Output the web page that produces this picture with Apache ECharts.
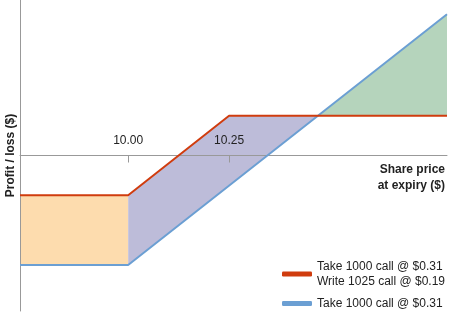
<!DOCTYPE html>
<html><head><meta charset="utf-8">
<script src="https://cdn.jsdelivr.net/npm/echarts@6/dist/echarts.min.js"></script>
<style>html,body{margin:0;padding:0;background:#fff}#c{width:449px;height:313px}</style>
</head><body><div id="c"></div>
<script>
// Share price at expiry ($) range and tick labels
const xMin = 9.732, xMax = 10.79;
const xTicks = [10.00, 10.25];
const yMin = -0.49, yMax = 0.49;
// Spread: take 1000 call @ $0.31, write 1025 call @ $0.19  [share price, profit/loss]
const spreadLine = [[9.732, -0.125], [10.00, -0.125], [10.25, 0.125], [10.79, 0.125]];
// Single call: take 1000 call @ $0.31
const callLine = [[9.732, -0.345], [10.00, -0.345], [10.79, 0.445]];
// where the two payoff lines cross
const crossPoint = [10.47, 0.125];

const spreadName = 'Take 1000 call @ $0.31\nWrite 1025 call @ $0.19';
const callName = 'Take 1000 call @ $0.31';

const orangeRegion = [spreadLine[0], spreadLine[1], callLine[1], callLine[0]];
const purpleRegion = [spreadLine[1], spreadLine[2], crossPoint, callLine[1]];
const greenRegion = [crossPoint, callLine[2], spreadLine[3]];

function polySeries(pts, color) {
  return {
    type: 'custom', silent: true, z: 1,
    data: [0],
    renderItem: function (params, api) {
      return {
        type: 'polygon',
        shape: { points: pts.map(p => api.coord(p)) },
        style: { fill: color }
      };
    }
  };
}

const gridTop = 0, gridBottom = 2, H = 313;
const plotH = H - gridTop - gridBottom;
// x axis sits at profit/loss = 0
const zeroOffset = -plotH * (0 - yMin) / (yMax - yMin);

const chart = echarts.init(document.getElementById('c'), null, {renderer: 'canvas'});
const font = 'Arial, "Liberation Sans", sans-serif';
chart.setOption({
  animation: false,
  grid: { left: 20, right: 2, top: gridTop, bottom: gridBottom, containLabel: false, outerBoundsMode: 'none' },
  xAxis: {
    type: 'value', min: xMin, max: xMax, position: 'bottom', offset: zeroOffset, z: 2,
    splitLine: { show: false },
    axisLine: { onZero: false, lineStyle: { color: '#999', width: 1 } },
    axisTick: { show: true, customValues: xTicks, length: 7, lineStyle: { color: '#999' } },
    axisLabel: { show: true, inside: true, customValues: xTicks, margin: 9, hideOverlap: false,
      formatter: v => v.toFixed(2), color: '#222', fontSize: 12, fontFamily: font },
    name: 'Share price\nat expiry ($)', nameLocation: 'end', nameGap: -2,
    nameTextStyle: { align: 'right', verticalAlign: 'top', fontWeight: 'bold', fontSize: 12,
      color: '#222', lineHeight: 16, fontFamily: font, padding: [6, 0, 0, 0] }
  },
  yAxis: {
    type: 'value', min: yMin, max: yMax, z: 2,
    splitLine: { show: false },
    axisLine: { show: true, onZero: false, lineStyle: { color: '#999', width: 1 } },
    axisTick: { show: false }, axisLabel: { show: false },
    name: 'Profit / loss ($)', nameLocation: 'middle', nameGap: 3,
    nameTextStyle: { fontWeight: 'bold', fontSize: 12, color: '#222', fontFamily: font }
  },
  legend: [{
    orient: 'vertical', left: 277, top: 254, itemWidth: 30, itemHeight: 5,
    icon: 'roundRect',
    data: [spreadName],
    textStyle: { fontSize: 12, color: '#222', lineHeight: 15, fontFamily: font }
  }, {
    orient: 'vertical', left: 277, top: 291, itemWidth: 30, itemHeight: 5,
    icon: 'roundRect',
    data: [callName],
    textStyle: { fontSize: 12, color: '#222', lineHeight: 15, fontFamily: font }
  }],
  series: [
    polySeries(orangeRegion, '#fddcae'),
    polySeries(purpleRegion, '#bdbcd9'),
    polySeries(greenRegion, '#b5d4bc'),
    { name: spreadName, type: 'line', data: spreadLine, symbol: 'none', z: 4,
      lineStyle: { color: '#d03c0e', width: 2 }, itemStyle: { color: '#d03c0e' } },
    { name: callName, type: 'line', data: callLine, symbol: 'none', z: 3,
      lineStyle: { color: '#6b9fd3', width: 2 }, itemStyle: { color: '#6b9fd3' } }
  ]
});
</script></body></html>
